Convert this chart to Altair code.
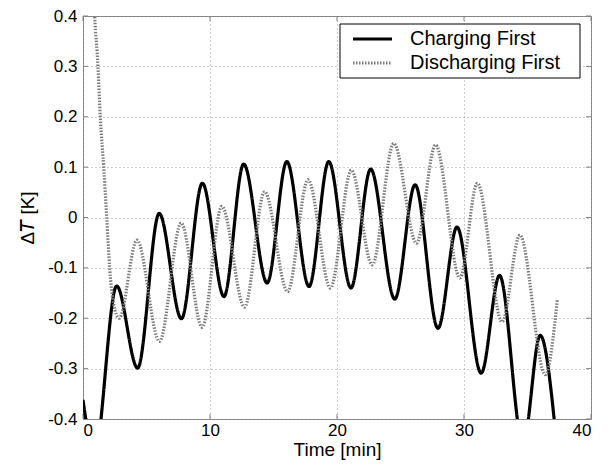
import altair as alt
import pandas as pd

# ---- data ----
series_names = ["Charging First", "Discharging First"]

charging_t = [0.0, 0.9, 2.65, 4.3, 6.0, 7.75, 9.4, 11.1, 12.65, 14.5, 16.05, 17.8,
              19.35, 21.1, 22.65, 24.55, 26.15, 27.95, 29.45, 31.35, 32.8, 34.65,
              36.0, 37.3]
charging_dT = [-0.362, -0.47, -0.136, -0.299, 0.008, -0.201, 0.068, -0.157, 0.106,
               -0.130, 0.111, -0.137, 0.111, -0.140, 0.096, -0.162, 0.065, -0.220,
               -0.019, -0.309, -0.115, -0.45, -0.234, -0.45]

discharging_t = [0.8, 0.92, 1.18, 1.36, 1.63, 1.87, 2.1, 2.4, 2.85, 4.25, 6.02,
                 7.73, 9.38, 10.93, 12.72, 14.3, 16.11, 17.72, 19.48, 21.13, 22.77,
                 24.47, 26.26, 27.76, 29.68, 31.05, 33.0, 34.4, 36.4, 37.35]
discharging_dT = [0.47, 0.40, 0.30, 0.20, 0.10, 0.0, -0.10, -0.17, -0.20, -0.045,
                  -0.246, -0.011, -0.218, 0.022, -0.178, 0.051, -0.147, 0.075,
                  -0.140, 0.094, -0.094, 0.147, -0.051, 0.144, -0.120, 0.068,
                  -0.207, -0.035, -0.312, -0.163]

x_ticks = [0, 10, 20, 30, 40]
y_ticks = [-0.4, -0.3, -0.2, -0.1, 0.0, 0.1, 0.2, 0.3, 0.4]

W, H = 508, 403
FONT = "Liberation Sans"
SOLID_COLOR = "#000000"
DOT_COLOR = "#7a7a7a"
DOT_DASH = [1.5, 1.5]

df = pd.concat([
    pd.DataFrame({"t": charging_t, "dT": charging_dT, "series": series_names[0]}),
    pd.DataFrame({"t": discharging_t, "dT": discharging_dT, "series": series_names[1]}),
])
xt = pd.DataFrame({"t": x_ticks})
yt = pd.DataFrame({"dT": y_ticks})


def x_enc():
    return alt.X("t:Q",
                 scale=alt.Scale(domain=[0, 40], nice=False, zero=False),
                 axis=alt.Axis(values=x_ticks, title="Time [min]", format="d"))


def y_enc():
    return alt.Y("dT:Q",
                 scale=alt.Scale(domain=[-0.4, 0.4], nice=False, zero=False),
                 axis=alt.Axis(values=y_ticks, title="Δ𝘛 [K]",
                               labelExpr="datum.value == 0 ? '0' : toString(round(datum.value*10)/10)"))


tick_color = "#808080"
tick_len = 5

ticks_bottom = alt.Chart(xt).mark_rule(color=tick_color).encode(
    x=x_enc(), y=alt.value(H), y2=alt.value(H - tick_len))
ticks_top = alt.Chart(xt).mark_rule(color=tick_color).encode(
    x=x_enc(), y=alt.value(0), y2=alt.value(tick_len))
ticks_left = alt.Chart(yt).mark_rule(color=tick_color).encode(
    y=y_enc(), x=alt.value(0), x2=alt.value(tick_len))
ticks_right = alt.Chart(yt).mark_rule(color=tick_color).encode(
    y=y_enc(), x=alt.value(W), x2=alt.value(W - tick_len))

lines = alt.Chart(df).mark_line(clip=True, interpolate="monotone", strokeWidth=3.2).encode(
    x=x_enc(),
    y=y_enc(),
    color=alt.Color("series:N",
                    scale=alt.Scale(domain=series_names, range=[SOLID_COLOR, DOT_COLOR]),
                    legend=None),
    strokeDash=alt.StrokeDash("series:N",
                              scale=alt.Scale(domain=series_names, range=[[1, 0], DOT_DASH]),
                              legend=None),
)

# ---- legend box (drawn by hand, matlab style) ----
LX0, LX1, LY0, LY1 = 257, 497, 8, 62
SYM_X0, SYM_X1, TXT_X = 270, 309, 327
ROW_Y = [23, 47]

leg_box = alt.Chart(pd.DataFrame({"k": [0]})).mark_rect(
    fill="white", stroke="black", strokeWidth=1).encode(
    x=alt.value(LX0), x2=alt.value(LX1), y=alt.value(LY0), y2=alt.value(LY1))

leg_layers = [leg_box]
for i, name in enumerate(series_names):
    one = pd.DataFrame({"series": [name]})
    rule_kwargs = dict(strokeWidth=3, color=SOLID_COLOR if i == 0 else DOT_COLOR)
    if i == 1:
        rule_kwargs["strokeDash"] = DOT_DASH
    leg_layers.append(alt.Chart(one).mark_rule(**rule_kwargs).encode(
        x=alt.value(SYM_X0), x2=alt.value(SYM_X1), y=alt.value(ROW_Y[i])))
    leg_layers.append(alt.Chart(one).mark_text(
        align="left", baseline="middle", font=FONT, fontSize=20, color="black").encode(
        text="series:N", x=alt.value(TXT_X), y=alt.value(ROW_Y[i])))

chart = alt.layer(ticks_bottom, ticks_top, ticks_left, ticks_right, lines, *leg_layers).properties(
    width=W, height=H,
    autosize=alt.AutoSizeParams(type="none"),
    padding={"left": 75, "top": 8, "right": 13, "bottom": 43},
    background="white",
).configure_view(
    stroke="#808080", strokeWidth=1
).configure_axis(
    domain=False, ticks=False, tickSize=0,
    grid=True, gridDash=[1, 3], gridColor="#9a9a9a", gridWidth=1,
    labelFont=FONT, labelFontSize=17, labelColor="#000",
    titleFont=FONT, titleFontSize=19, titleFontWeight="normal", titleColor="#000",
).configure_axisX(
    labelPadding=3, titlePadding=2
).configure_axisY(
    labelPadding=6, titlePadding=10
)

chart.save("out.html", embed_options={"renderer": "svg", "actions": False})
